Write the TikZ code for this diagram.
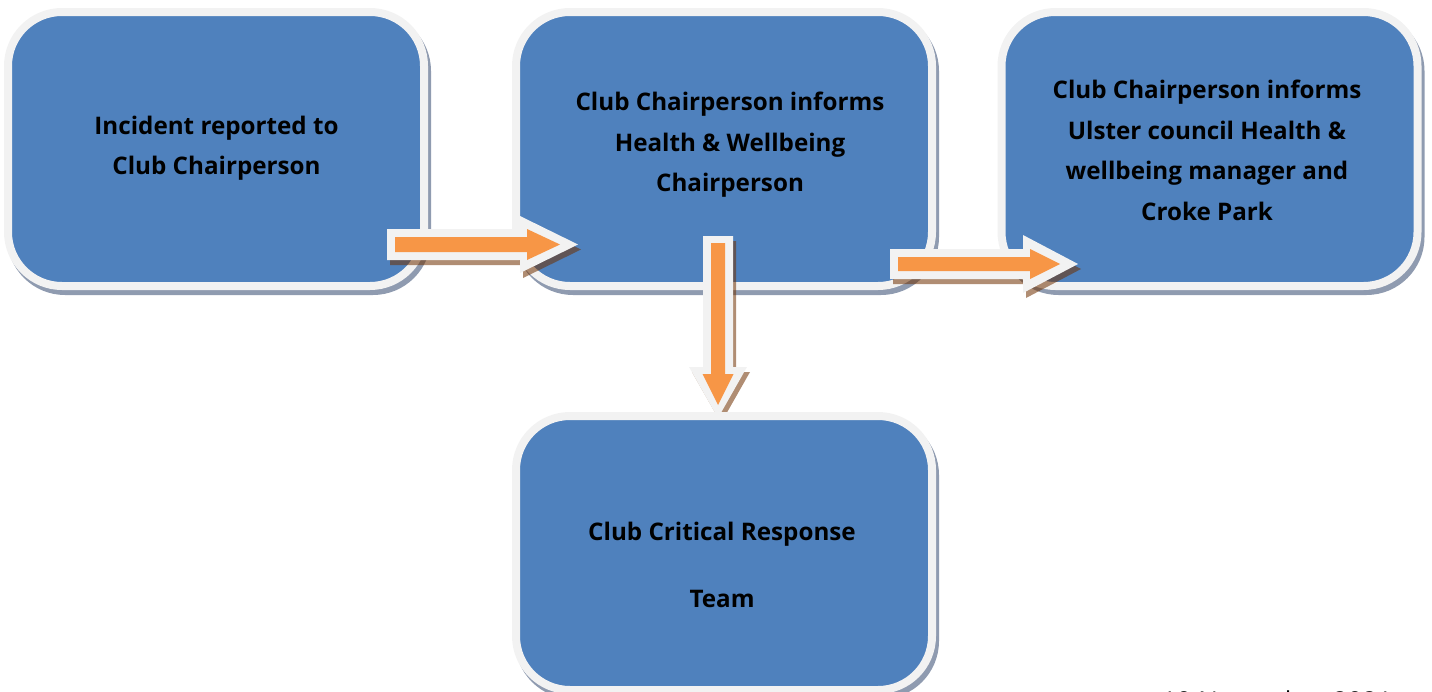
\documentclass[tikz,border=0pt]{standalone}
\usepackage{fontspec}
\setmainfont{Open Sans}
\definecolor{boxblue}{HTML}{4F81BD}
\definecolor{borderw}{HTML}{F2F2F2}
\definecolor{boxshadow}{HTML}{8F9BB0}
\definecolor{arrorange}{HTML}{F79646}
\definecolor{arrshadow}{HTML}{6F3000}
\begin{document}
\begin{tikzpicture}[x=1pt,y=-1pt,
  stepbox/.style={rectangle, draw=borderw, fill=boxblue, line width=8pt,
    rounded corners=54pt, minimum width=416pt, minimum height=274pt, inner sep=0pt,
    preaction={draw=boxshadow, fill=boxshadow, transform canvas={xshift=3pt,yshift=-5pt}}},
  boxtext/.style={align=center, font=\bfseries\fontsize{24.2}{40.5}\selectfont, text=black, inner sep=0pt},
  arrowouter/.style={fill=borderw},
  arrowinner/.style={fill=arrorange},
  arrowshade/.style={fill=arrshadow, fill opacity=0.55}
]
\useasboundingbox (0,0) rectangle (1432,691);
\clip (0,0) rectangle (1432,691);

% boxes
\node[stepbox] (b1) at (216,149) {};
\node[stepbox] (b2) at (724,149) {};
\node[stepbox] (b3) at (1209.5,149) {};

% down arrow (under box 4)
\fill[arrowshade, shift={(3,5)}] (703,236) -- (733,236) -- (733,367) -- (747,367) -- (718,418) -- (689,367) -- (703,367) -- cycle;
\fill[arrowouter] (703,236) -- (733,236) -- (733,367) -- (747,367) -- (718,418) -- (689,367) -- (703,367) -- cycle;
\fill[arrowinner] (711,243) -- (725,243) -- (725,374) -- (733.5,374) -- (718,405) -- (702.5,374) -- (711,374) -- cycle;

\node[stepbox] (b4) at (724,553) {};

% right arrows
\fill[arrowshade, shift={(3,5)}] (387,229) -- (520,229) -- (520,216) -- (578,244.5) -- (520,273) -- (520,260) -- (387,260) -- cycle;
\fill[arrowouter] (387,229) -- (520,229) -- (520,216) -- (578,244.5) -- (520,273) -- (520,260) -- (387,260) -- cycle;
\fill[arrowinner] (395,237) -- (527,237) -- (527,229) -- (560,244.5) -- (527,260) -- (527,252) -- (395,252) -- cycle;

\fill[arrowshade, shift={(3,5)}] (890,249) -- (1023,249) -- (1023,235) -- (1078,264) -- (1023,293) -- (1023,279) -- (890,279) -- cycle;
\fill[arrowouter] (890,249) -- (1023,249) -- (1023,235) -- (1078,264) -- (1023,293) -- (1023,279) -- (890,279) -- cycle;
\fill[arrowinner] (898,257) -- (1030,257) -- (1030,249) -- (1060,264) -- (1030,279) -- (1030,271) -- (898,271) -- cycle;

% texts
\node[boxtext] (t1) at (216.5,148) {Incident reported to\\Club Chairperson};
\node[boxtext] (t2) at (730,145) {Club Chairperson informs\\Health \& Wellbeing\\Chairperson};
\node[boxtext] (t3) at (1207,150.5) {Club Chairperson informs\\Ulster council Health \&\\wellbeing manager and\\Croke Park};
\node[boxtext] (t4) at (722,565) {Club Critical Response\\[26.5pt]Team};

\node[anchor=base, font=\fontsize{26}{30}\selectfont, inner sep=0pt] (date) at (1277,710) {10 November 2021};
\end{tikzpicture}
\end{document}
